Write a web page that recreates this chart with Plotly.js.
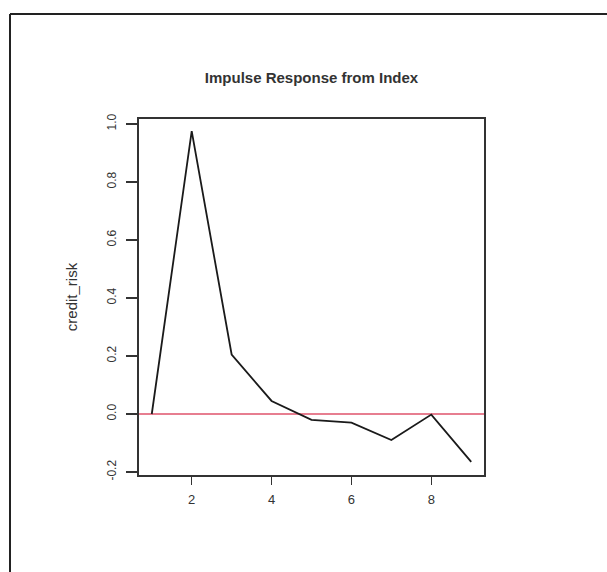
<!DOCTYPE html>
<html>
<head>
<meta charset="utf-8">
<script src="https://cdn.plot.ly/plotly-3.0.1.min.js"></script>
<style>
  html, body { margin: 0; padding: 0; background: #ffffff; }
  #chart { width: 607px; height: 572px; }
</style>
</head>
<body>
<div id="chart"></div>
<script>
// Impulse response of credit_risk from Index
const horizon = [1, 2, 3, 4, 5, 6, 7, 8, 9];
const credit_risk = [0.0, 0.975, 0.205, 0.045, -0.02, -0.03, -0.09, -0.002, -0.165];
const xTicks = [2, 4, 6, 8];
const yTicks = [-0.2, 0.0, 0.2, 0.4, 0.6, 0.8, 1.0];
const yTickLabels = ['-0.2', '0.0', '0.2', '0.4', '0.6', '0.8', '1.0'];
const zeroLine = 0;

const W = 607, H = 572;
const margin = {l: 139, r: 123, t: 119, b: 97};
const pw = W - margin.l - margin.r, ph = H - margin.t - margin.b;
// outer frame (image border) in paper coords
const fx = (10 - margin.l) / pw;
const fyTop = (H - margin.b - 14) / ph;
const fyBot = (H - margin.b - H - 5) / ph;
const fxRight = (W + 5 - margin.l) / pw;

const font = 'Liberation Sans, Arial, sans-serif';

const trace = {
  x: horizon,
  y: credit_risk,
  type: 'scatter',
  mode: 'lines',
  line: {color: '#1a1a1a', width: 1.8},
  hoverinfo: 'x+y',
  showlegend: false
};

const layout = {
  width: W,
  height: H,
  margin: margin,
  paper_bgcolor: '#ffffff',
  plot_bgcolor: '#ffffff',
  font: {family: font, color: '#222222', size: 12},
  title: {
    text: '<b>Impulse Response from Index</b>',
    font: {family: font, size: 15, color: '#333333'},
    x: 0.5, xref: 'paper', xanchor: 'center',
    y: 1 - 78 / H, yref: 'container', yanchor: 'middle'
  },
  xaxis: {
    range: [0.68, 9.32],
    tickmode: 'array',
    tickvals: xTicks,
    ticktext: xTicks.map(String),
    ticks: 'outside',
    ticklen: 8,
    tickwidth: 1.2,
    tickcolor: '#333333',
    ticklabelstandoff: 3,
    showgrid: false,
    zeroline: false,
    showline: true,
    mirror: true,
    linecolor: '#333333',
    linewidth: 2,
    tickfont: {family: font, size: 13, color: '#333333'},
    fixedrange: true
  },
  yaxis: {
    range: [-0.2103, 1.017],
    tickmode: 'array',
    tickvals: yTicks,
    ticktext: yTickLabels,
    tickangle: -90,
    ticks: 'outside',
    ticklen: 11,
    tickwidth: 1.2,
    tickcolor: '#333333',
    ticklabelstandoff: 5,
    showgrid: false,
    zeroline: false,
    showline: true,
    mirror: true,
    linecolor: '#333333',
    linewidth: 2,
    tickfont: {family: font, size: 12, color: '#333333'},
    title: {
      text: 'credit_risk',
      font: {family: font, size: 15, color: '#333333'},
      standoff: 24
    },
    fixedrange: true
  },
  shapes: [
    {type: 'line', xref: 'paper', yref: 'y', x0: 0, x1: 1, y0: zeroLine, y1: zeroLine,
     line: {color: '#DF536B', width: 1.5}, layer: 'below'},
    {type: 'line', xref: 'paper', yref: 'paper', x0: fx, x1: fx, y0: fyBot, y1: fyTop,
     line: {color: '#222222', width: 2}},
    {type: 'line', xref: 'paper', yref: 'paper', x0: fx, x1: fxRight, y0: fyTop, y1: fyTop,
     line: {color: '#222222', width: 2}}
  ]
};

Plotly.newPlot('chart', [trace], layout, {displayModeBar: false, staticPlot: true});
</script>
</body>
</html>
